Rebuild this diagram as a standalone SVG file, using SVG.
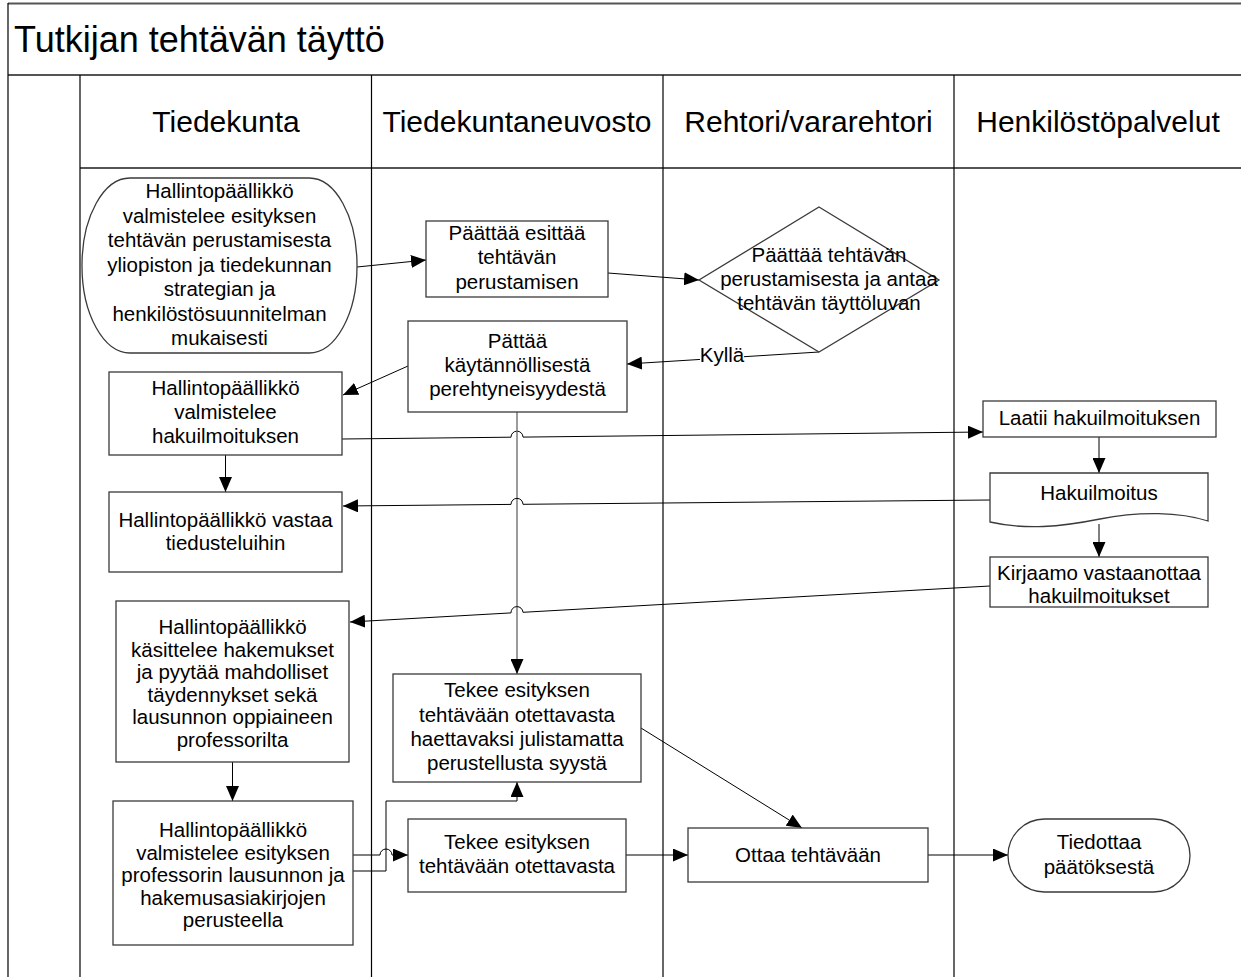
<svg xmlns="http://www.w3.org/2000/svg" width="1241" height="977" viewBox="0 0 1241 977">
  <defs>
    <marker id="arrow" viewBox="0 0 15 13" refX="15" refY="6.5" markerWidth="15" markerHeight="13" orient="auto" markerUnits="userSpaceOnUse">
      <path d="M0,0 L15,6.5 L0,13 Z" fill="#000"/>
    </marker>
  </defs>
  <style>
    text { font-family: "Liberation Sans", Arial, sans-serif; fill: #000; }
    .title { font-size: 36px; }
    .lane { font-size: 30px; text-anchor: middle; }
    .lbl { font-size: 20.5px; text-anchor: middle; }
    .shape { fill: #fff; stroke: #3a3a3a; stroke-width: 1.3; }
    .frame { stroke: #555; stroke-width: 2; fill: none; }
    .sep { stroke: #000; stroke-width: 1.2; fill: none; }
    .conn { stroke: #000; stroke-width: 1; fill: none; }
    .grey { stroke: #666; stroke-width: 1.3; }
    .arr { marker-end: url(#arrow); }
  </style>

  <rect width="1241" height="977" fill="#fff"/>

  <!-- pool frame, title bar and lane headers -->
  <g id="pool">
    <line class="frame" x1="8" y1="3.5" x2="1241" y2="3.5"/>
    <line class="frame" x1="8" y1="75" x2="1241" y2="75"/>
    <line class="frame" x1="80" y1="168" x2="1241" y2="168"/>
    <line class="sep" x1="8" y1="3" x2="8" y2="977"/>
    <line class="sep" x1="80" y1="75" x2="80" y2="977"/>
    <line class="sep" x1="371.5" y1="75" x2="371.5" y2="977"/>
    <line class="sep" x1="663" y1="75" x2="663" y2="977"/>
    <line class="sep" x1="954" y1="75" x2="954" y2="977"/>
    <text class="title" x="14" y="52">Tutkijan tehtävän täyttö</text>
    <text class="lane" x="226" y="132">Tiedekunta</text>
    <text class="lane" x="517" y="132">Tiedekuntaneuvosto</text>
    <text class="lane" x="808.5" y="132">Rehtori/vararehtori</text>
    <text class="lane" x="1098" y="132">Henkilöstöpalvelut</text>
  </g>

  <!-- connectors -->
  <g id="connectors">
    <path class="conn arr" d="M357,267 L426,260"/>
    <path class="conn arr" d="M608,273 L699,280"/>
    <path class="conn arr" d="M819,352 L627,364"/>
    <path class="conn arr" d="M408,366 L343,395"/>
    <path class="conn arr" d="M342,439 L511,437.2 A6,6 0 0 1 523,437.1 L983,432"/>
    <path class="conn grey arr" d="M517,412 L517,674"/>
    <path class="conn arr" d="M225.5,455 L225.5,492"/>
    <path class="conn arr" d="M1099,437 L1099,473"/>
    <path class="conn arr" d="M990,500 L523,504.3 A6,6 0 0 0 511,504.4 L343,506"/>
    <path class="conn arr" d="M1099,524 L1099,557"/>
    <path class="conn arr" d="M990,586 L523,612.3 A6,6 0 0 0 511,612.9 L350,622"/>
    <path class="conn arr" d="M232.5,762 L232.5,801"/>
    <path class="conn arr" d="M353,855 L380,855 A6,6 0 0 1 392,855 L408,855"/>
    <path class="conn arr" d="M353,871 L386,871 L386,801 L517,801 L517,782"/>
    <path class="conn arr" d="M626,855 L688,855"/>
    <path class="conn arr" d="M641,728 L802,828"/>
    <path class="conn arr" d="M928,855 L1008,855"/>
    <g id="label-kylla">
      <rect x="700" y="342" width="44" height="21" fill="#fff"/>
      <text class="lbl" x="722" y="362">Kyllä</text>
    </g>
  </g>

  <!-- Tiedekunta lane -->
  <g id="n-esitys-valmistelu">
    <rect class="shape" x="82" y="178" width="275" height="175" rx="48" ry="87"/>
    <text class="lbl" x="219.5" y="198">Hallintopäällikkö</text>
    <text class="lbl" x="219.5" y="222.5">valmistelee esityksen</text>
    <text class="lbl" x="219.5" y="247">tehtävän perustamisesta</text>
    <text class="lbl" x="219.5" y="271.5">yliopiston ja tiedekunnan</text>
    <text class="lbl" x="219.5" y="296">strategian ja</text>
    <text class="lbl" x="219.5" y="320.5">henkilöstösuunnitelman</text>
    <text class="lbl" x="219.5" y="345">mukaisesti</text>
  </g>
  <g id="n-hakuilmoitus-valmistelu">
    <rect class="shape" x="109" y="372" width="233" height="83"/>
    <text class="lbl" x="225.5" y="395">Hallintopäällikkö</text>
    <text class="lbl" x="225.5" y="419">valmistelee</text>
    <text class="lbl" x="225.5" y="443">hakuilmoituksen</text>
  </g>
  <g id="n-tiedustelut">
    <rect class="shape" x="109" y="492" width="233" height="80"/>
    <text class="lbl" x="225.5" y="527">Hallintopäällikkö vastaa</text>
    <text class="lbl" x="225.5" y="550">tiedusteluihin</text>
  </g>
  <g id="n-hakemukset">
    <rect class="shape" x="116" y="601" width="233" height="161"/>
    <text class="lbl" x="232.5" y="634">Hallintopäällikkö</text>
    <text class="lbl" x="232.5" y="656.5">käsittelee hakemukset</text>
    <text class="lbl" x="232.5" y="679">ja pyytää mahdolliset</text>
    <text class="lbl" x="232.5" y="701.5">täydennykset sekä</text>
    <text class="lbl" x="232.5" y="724">lausunnon oppiaineen</text>
    <text class="lbl" x="232.5" y="746.5">professorilta</text>
  </g>
  <g id="n-esitys-professori">
    <rect class="shape" x="113" y="801" width="240" height="144"/>
    <text class="lbl" x="233" y="837">Hallintopäällikkö</text>
    <text class="lbl" x="233" y="859.5">valmistelee esityksen</text>
    <text class="lbl" x="233" y="882">professorin lausunnon ja</text>
    <text class="lbl" x="233" y="904.5">hakemusasiakirjojen</text>
    <text class="lbl" x="233" y="927">perusteella</text>
  </g>

  <!-- Tiedekuntaneuvosto lane -->
  <g id="n-esittaa-perustamisen">
    <rect class="shape" x="426" y="221" width="182" height="76"/>
    <text class="lbl" x="517" y="239.5">Päättää esittää</text>
    <text class="lbl" x="517" y="264">tehtävän</text>
    <text class="lbl" x="517" y="288.5">perustamisen</text>
  </g>
  <g id="n-perehtyneisyys">
    <rect class="shape" x="408" y="321" width="219" height="91"/>
    <text class="lbl" x="517.5" y="348">Pättää</text>
    <text class="lbl" x="517.5" y="372">käytännöllisestä</text>
    <text class="lbl" x="517.5" y="395.5">perehtyneisyydestä</text>
  </g>
  <g id="n-esitys-julistamatta">
    <rect class="shape" x="393" y="674" width="248" height="108"/>
    <text class="lbl" x="517" y="697">Tekee esityksen</text>
    <text class="lbl" x="517" y="721.5">tehtävään otettavasta</text>
    <text class="lbl" x="517" y="746">haettavaksi julistamatta</text>
    <text class="lbl" x="517" y="770">perustellusta syystä</text>
  </g>
  <g id="n-esitys-otettavasta">
    <rect class="shape" x="408" y="819" width="218" height="73"/>
    <text class="lbl" x="517" y="849">Tekee esityksen</text>
    <text class="lbl" x="517" y="873">tehtävään otettavasta</text>
  </g>

  <!-- Rehtori/vararehtori lane -->
  <g id="n-tayttolupa">
    <polygon class="shape" points="819,207 939,280 819,352 699,280"/>
    <text class="lbl" x="829" y="262">Päättää tehtävän</text>
    <text class="lbl" x="829" y="286">perustamisesta ja antaa</text>
    <text class="lbl" x="829" y="310">tehtävän täyttöluvan</text>
  </g>
  <g id="n-ottaa-tehtavaan">
    <rect class="shape" x="688" y="828" width="240" height="54"/>
    <text class="lbl" x="808" y="862">Ottaa tehtävään</text>
  </g>

  <!-- Henkilöstöpalvelut lane -->
  <g id="n-laatii">
    <rect class="shape" x="983" y="401" width="233" height="36"/>
    <text class="lbl" x="1099.5" y="425">Laatii hakuilmoituksen</text>
  </g>
  <g id="n-hakuilmoitus-doc">
    <path class="shape" d="M990,473 L1208,473 L1208,521 C1180,512 1140,511 1100,519 C1060,527 1025,530 990,522 Z"/>
    <text class="lbl" x="1099" y="500">Hakuilmoitus</text>
  </g>
  <g id="n-kirjaamo">
    <rect class="shape" x="990" y="557" width="218" height="50"/>
    <text class="lbl" x="1099" y="580">Kirjaamo vastaanottaa</text>
    <text class="lbl" x="1099" y="603">hakuilmoitukset</text>
  </g>
  <g id="n-tiedottaa">
    <rect class="shape" x="1008" y="819" width="182" height="73" rx="36.5" ry="36.5"/>
    <text class="lbl" x="1099" y="849">Tiedottaa</text>
    <text class="lbl" x="1099" y="874">päätöksestä</text>
  </g>
</svg>
